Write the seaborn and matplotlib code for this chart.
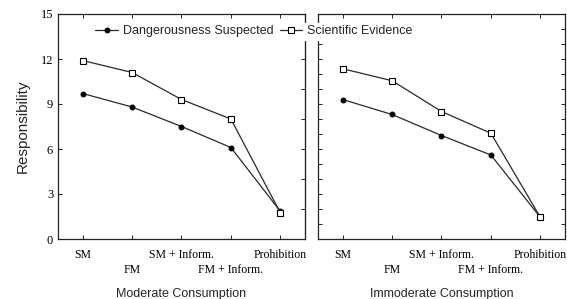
import numpy as np
import pandas as pd
import matplotlib
matplotlib.use("Agg")
import matplotlib.pyplot as plt
import seaborn as sns

categories = ["SM", "FM", "SM + Inform.", "FM + Inform.", "Prohibition"]
panels = ["Moderate Consumption", "Immoderate Consumption"]
series = ["Dangerousness Suspected", "Scientific Evidence"]

moderate_ds = [9.7, 8.8, 7.5, 6.1, 1.85]
moderate_se = [11.9, 11.1, 9.3, 8.0, 1.75]
immoderate_ds = [9.3, 8.3, 6.9, 5.6, 1.45]
immoderate_se = [11.35, 10.55, 8.5, 7.05, 1.45]

rows = []
for panel, ds, se in [(panels[0], moderate_ds, moderate_se),
                      (panels[1], immoderate_ds, immoderate_se)]:
    for i, c in enumerate(categories):
        rows.append({"panel": panel, "series": series[0], "pos": i, "value": ds[i]})
        rows.append({"panel": panel, "series": series[1], "pos": i, "value": se[i]})
df = pd.DataFrame(rows)

sns.set_style("ticks")
plt.rcParams["font.family"] = ["Liberation Sans", "DejaVu Sans"]

fig = plt.figure(figsize=(5.67, 2.99), dpi=100)
ax1 = fig.add_axes([58 / 567, 1 - 239 / 299, 247 / 567, 225 / 299])
ax2 = fig.add_axes([318 / 567, 1 - 239 / 299, 247 / 567, 225 / 299])

marker_style = {
    series[0]: dict(marker="o", markersize=3.5, markerfacecolor="black", markeredgecolor="black"),
    series[1]: dict(marker="s", markersize=4.2, markerfacecolor="white", markeredgecolor="black",
                    markeredgewidth=0.8),
}

serif = ["Liberation Serif", "DejaVu Serif"]

for ax, panel in [(ax1, panels[0]), (ax2, panels[1])]:
    sub = df[df["panel"] == panel]
    for s in series:
        sns.lineplot(data=sub[sub["series"] == s], x="pos", y="value", ax=ax,
                     color="#2a2a2a", linewidth=0.9, label=s, **marker_style[s])
    ax.set_xlim(-0.5, 4.5)
    ax.set_ylim(0, 15)
    ax.set_xticks(range(len(categories)))
    ax.set_xticklabels(categories, family=serif, fontsize=8.5)
    ax.set_xlabel(panel, fontsize=9, labelpad=9)
    ax.set_ylabel("")
    ax.get_legend().remove()
    for sp in ax.spines.values():
        sp.set_visible(True)
        sp.set_linewidth(0.9)
        sp.set_color("#222222")
    ax.tick_params(direction="in", length=3, width=0.7, top=True, colors="#222222",
                   labelcolor="black")
    ax.tick_params(axis="x", pad=7)
    # every second category label goes on a lower row
    for i, tick in enumerate(ax.xaxis.get_major_ticks()):
        if i % 2 == 1:
            tick.set_pad(18)

ax1.set_yticks(np.arange(0, 16, 3))
ax1.set_yticklabels([str(v) for v in range(0, 16, 3)], family=serif, fontsize=9)
ax1.set_ylabel("Responsibility", fontsize=11, labelpad=8)
sec = ax1.secondary_yaxis("right")
sec.set_yticks(np.arange(0, 15, 2))
sec.tick_params(direction="in", length=3, width=0.7, labelright=False, colors="#222222")

ax2.set_yticks(np.arange(0, 16, 1))
ax2.tick_params(axis="y", left=True, right=True, labelleft=False)

handles, labels = ax1.get_legend_handles_labels()
leg = fig.legend(handles, labels, loc="center", bbox_to_anchor=(0.448, 0.896), ncol=2,
                 fontsize=9, frameon=True, handlelength=1.8, handletextpad=0.4,
                 columnspacing=0.5, borderpad=0.2)
leg.get_frame().set_facecolor("white")
leg.get_frame().set_edgecolor("white")
leg.get_frame().set_alpha(1)

fig.savefig("out.png", dpi=100)
